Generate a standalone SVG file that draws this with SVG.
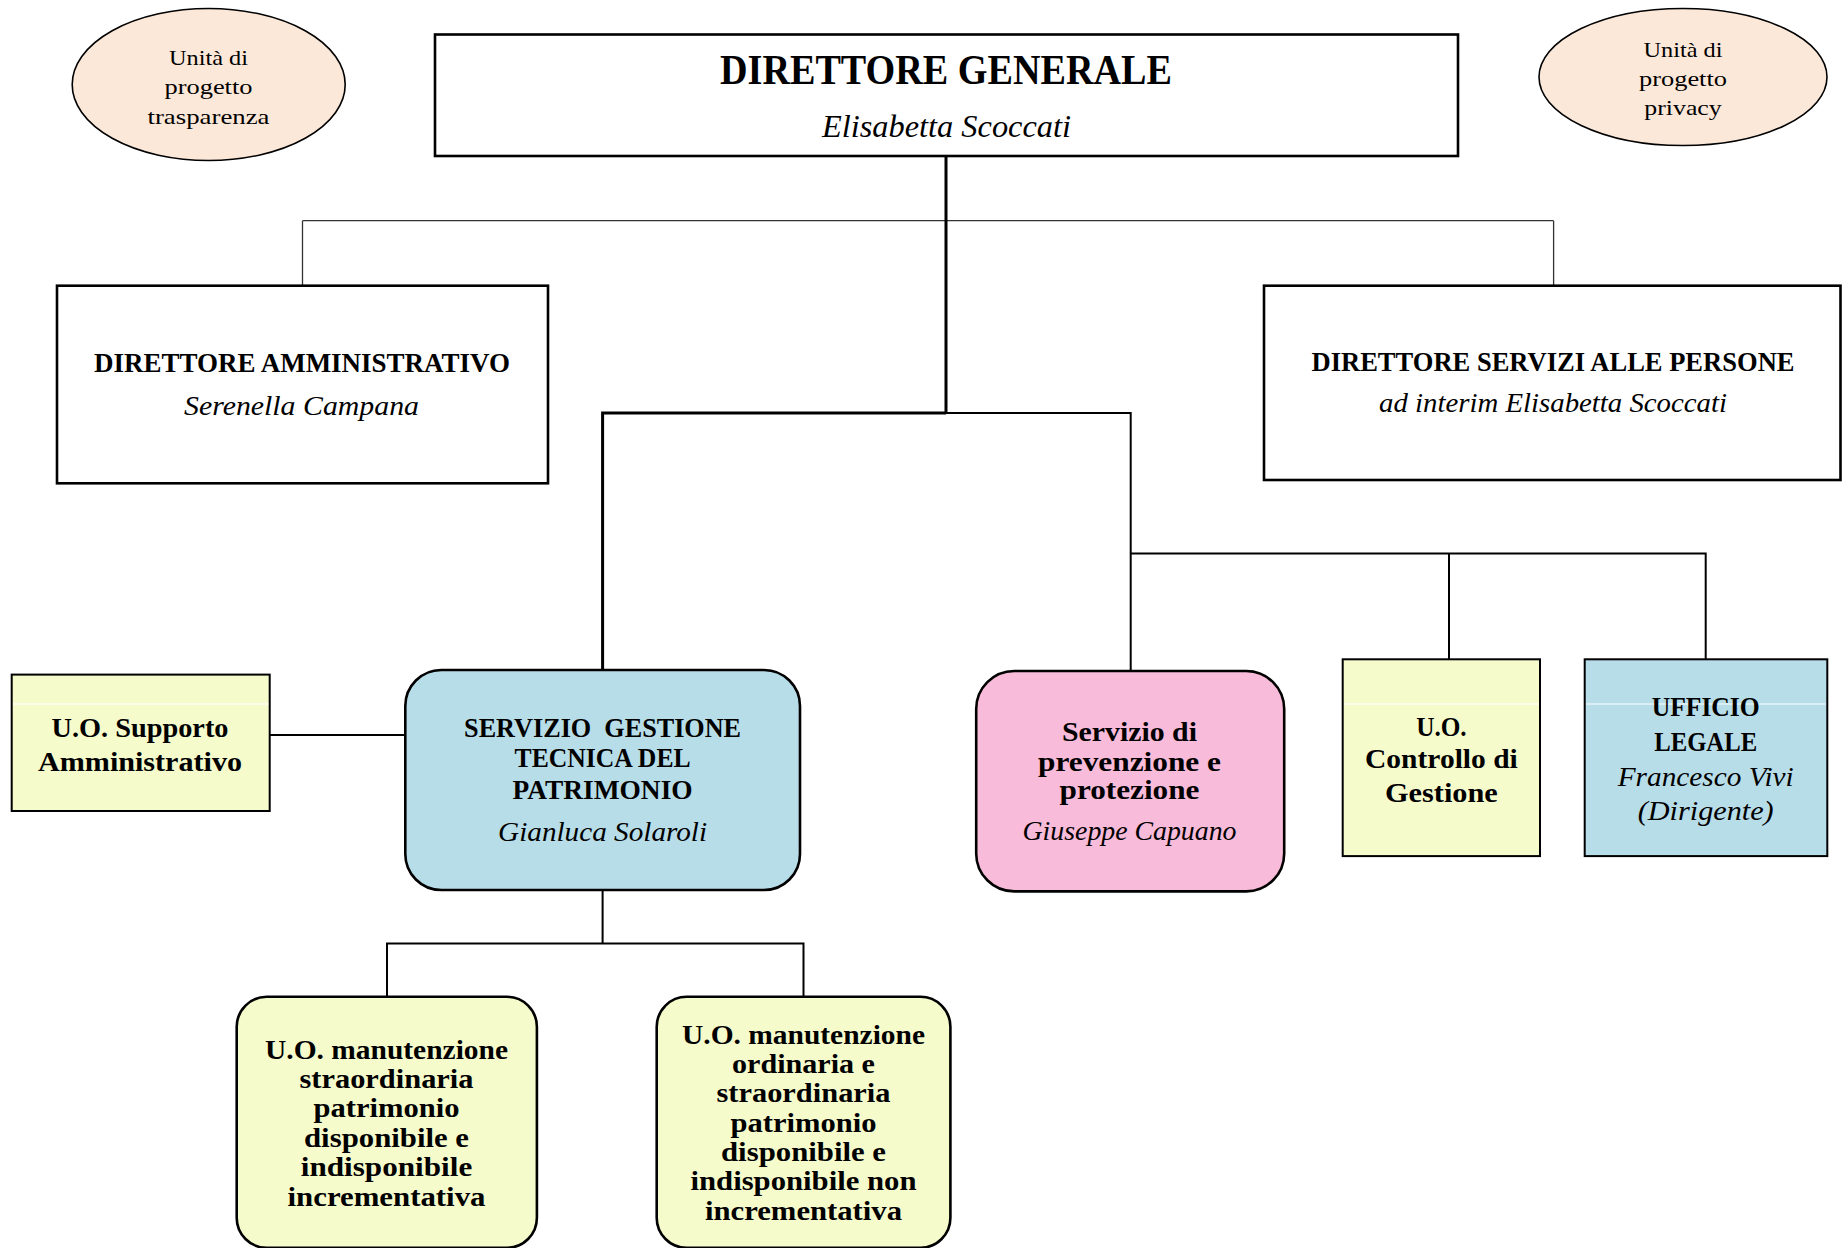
<svg xmlns="http://www.w3.org/2000/svg" width="1842" height="1248" viewBox="0 0 1842 1248">
<style>
  text { font-family: "Liberation Serif", "DejaVu Serif", serif; fill: #000; text-anchor: middle; }
  .b { font-weight: bold; }
  .i { font-style: italic; }
  .box { stroke: #000; stroke-width: 2.6; }
  .sq { stroke: #000; stroke-width: 2; }
  .ell { fill: #fce8d9; stroke: #000; stroke-width: 1.6; }
  .yel { fill: #f6fbcc; }
  .blu { fill: #b7dde8; }
  .pnk { fill: #f8bbd9; }
  .wl { stroke: #ffffff; stroke-width: 1.2; }
  .c { fill: none; stroke: #000; stroke-width: 2; }
  .ct { fill: none; stroke: #333; stroke-width: 1.3; }
  .ck { fill: none; stroke: #000; stroke-width: 3; }
  .f22 { font-size: 22px; }
  .f27 { font-size: 27px; }
  .f28 { font-size: 28px; }
</style>

<g id="connectors">
  <path class="ct" d="M302.5 220.7 H1553.6 M302.5 220.7 V285.7 M1553.6 220.7 V285.7"/>
  <path class="ck" d="M946 156 V413 M946 413 H602.6 V670"/>
  <path class="c" d="M946 413 H1130.7 V671"/>
  <path class="c" d="M1130.7 553.4 H1705.7 V659.3 M1449 553.4 V659.3"/>
  <path class="c" d="M269.6 735 H405.3"/>
  <path class="c" d="M602.6 890 V943.4 M387 996.8 V943.4 H803.5 V996.8"/>
</g>

<g id="unita-trasparenza">
  <ellipse class="ell" cx="208.7" cy="84.5" rx="136.5" ry="76"/>
  <text class="f22" x="208.5" y="65" textLength="79" lengthAdjust="spacingAndGlyphs">Unità di</text>
  <text class="f22" x="208.5" y="94.4" textLength="88" lengthAdjust="spacingAndGlyphs">progetto</text>
  <text class="f22" x="208.5" y="123.8" textLength="122" lengthAdjust="spacingAndGlyphs">trasparenza</text>
</g>

<g id="unita-privacy">
  <ellipse class="ell" cx="1683" cy="77" rx="144" ry="68.5"/>
  <text class="f22" x="1683" y="56.7" textLength="79" lengthAdjust="spacingAndGlyphs">Unità di</text>
  <text class="f22" x="1683" y="86" textLength="88" lengthAdjust="spacingAndGlyphs">progetto</text>
  <text class="f22" x="1683" y="115.3" textLength="77.5" lengthAdjust="spacingAndGlyphs">privacy</text>
</g>

<g id="direttore-generale">
  <rect class="box" x="435" y="34.5" width="1023" height="121.5" fill="#fff"/>
  <text class="b" x="946" y="84" font-size="42" textLength="452" lengthAdjust="spacingAndGlyphs">DIRETTORE GENERALE</text>
  <text class="i" x="946.5" y="136.5" font-size="32" textLength="249" lengthAdjust="spacingAndGlyphs">Elisabetta Scoccati</text>
</g>

<g id="direttore-amministrativo">
  <rect class="box" x="57" y="285.7" width="491" height="197.6" fill="#fff"/>
  <text class="b f28" x="302" y="371.7" textLength="416" lengthAdjust="spacingAndGlyphs">DIRETTORE AMMINISTRATIVO</text>
  <text class="i f28" x="301.5" y="415" textLength="235" lengthAdjust="spacingAndGlyphs">Serenella Campana</text>
</g>

<g id="direttore-servizi-persone">
  <rect class="box" x="1264" y="285.7" width="576.5" height="194.3" fill="#fff"/>
  <text class="b f28" x="1553" y="371" textLength="483" lengthAdjust="spacingAndGlyphs">DIRETTORE SERVIZI ALLE PERSONE</text>
  <text class="i f28" x="1553" y="412" textLength="348" lengthAdjust="spacingAndGlyphs">ad interim Elisabetta Scoccati</text>
</g>

<g id="uo-supporto-amministrativo">
  <rect class="sq yel" x="11.7" y="674.6" width="258" height="136.4"/>
  <line class="wl" x1="13" y1="704" x2="268.5" y2="704"/>
  <text class="b f27" x="140" y="736.8" textLength="177" lengthAdjust="spacingAndGlyphs">U.O. Supporto</text>
  <text class="b f27" x="140" y="770.7" textLength="204" lengthAdjust="spacingAndGlyphs">Amministrativo</text>
</g>

<g id="servizio-gestione-tecnica">
  <rect class="box blu" x="405.3" y="670" width="394.7" height="220" rx="36" ry="36"/>
  <text class="b f27" x="602.6" y="736.8" textLength="277" lengthAdjust="spacingAndGlyphs" xml:space="preserve">SERVIZIO  GESTIONE</text>
  <text class="b f27" x="602.6" y="767.4" textLength="176" lengthAdjust="spacingAndGlyphs">TECNICA DEL</text>
  <text class="b f27" x="602.6" y="798.6" textLength="180" lengthAdjust="spacingAndGlyphs">PATRIMONIO</text>
  <text class="i f27" x="602.6" y="841.3" textLength="209" lengthAdjust="spacingAndGlyphs">Gianluca Solaroli</text>
</g>

<g id="servizio-prevenzione-protezione">
  <rect class="box pnk" x="976.2" y="671" width="308" height="220.4" rx="38" ry="38"/>
  <text class="b f27" x="1129.5" y="740.5" textLength="135" lengthAdjust="spacingAndGlyphs">Servizio di</text>
  <text class="b f27" x="1129.5" y="770.7" textLength="183" lengthAdjust="spacingAndGlyphs">prevenzione e</text>
  <text class="b f27" x="1129.5" y="799" textLength="140" lengthAdjust="spacingAndGlyphs">protezione</text>
  <text class="i f27" x="1129.5" y="840" textLength="214" lengthAdjust="spacingAndGlyphs">Giuseppe Capuano</text>
</g>

<g id="uo-controllo-gestione">
  <rect class="sq yel" x="1342.7" y="659.3" width="197.3" height="196.8"/>
  <line class="wl" x1="1344" y1="704" x2="1539" y2="704"/>
  <text class="b f27" x="1441.4" y="736" textLength="50.5" lengthAdjust="spacingAndGlyphs">U.O.</text>
  <text class="b f27" x="1441.4" y="768.4" textLength="152.7" lengthAdjust="spacingAndGlyphs">Controllo di</text>
  <text class="b f27" x="1441.4" y="801.8" textLength="112.8" lengthAdjust="spacingAndGlyphs">Gestione</text>
</g>

<g id="ufficio-legale">
  <rect class="sq blu" x="1584.7" y="659.3" width="242.6" height="196.8"/>
  <line class="wl" x1="1586" y1="704" x2="1826" y2="704"/>
  <text class="b f27" x="1705.7" y="716" textLength="108" lengthAdjust="spacingAndGlyphs">UFFICIO</text>
  <text class="b f27" x="1705.7" y="750.7" textLength="103" lengthAdjust="spacingAndGlyphs">LEGALE</text>
  <text class="i f27" x="1705.7" y="786" textLength="176" lengthAdjust="spacingAndGlyphs">Francesco Vivi</text>
  <text class="i f27" x="1705.7" y="819.5" textLength="136" lengthAdjust="spacingAndGlyphs">(Dirigente)</text>
</g>

<g id="uo-manutenzione-straordinaria">
  <rect class="box yel" x="236.7" y="996.8" width="300.2" height="251" rx="30" ry="30"/>
  <text class="b f27" x="386.5" y="1058.5" textLength="243" lengthAdjust="spacingAndGlyphs">U.O. manutenzione</text>
  <text class="b f27" x="386.5" y="1087.8" textLength="174" lengthAdjust="spacingAndGlyphs">straordinaria</text>
  <text class="b f27" x="386.5" y="1117.1" textLength="146" lengthAdjust="spacingAndGlyphs">patrimonio</text>
  <text class="b f27" x="386.5" y="1146.7" textLength="165" lengthAdjust="spacingAndGlyphs">disponibile e</text>
  <text class="b f27" x="386.5" y="1175.8" textLength="171.5" lengthAdjust="spacingAndGlyphs">indisponibile</text>
  <text class="b f27" x="386.5" y="1205.7" textLength="198" lengthAdjust="spacingAndGlyphs">incrementativa</text>
</g>

<g id="uo-manutenzione-ordinaria">
  <rect class="box yel" x="656.7" y="996.8" width="293.7" height="251" rx="30" ry="30"/>
  <text class="b f27" x="803.5" y="1043.7" textLength="243" lengthAdjust="spacingAndGlyphs">U.O. manutenzione</text>
  <text class="b f27" x="803.5" y="1072.8" textLength="143" lengthAdjust="spacingAndGlyphs">ordinaria e</text>
  <text class="b f27" x="803.5" y="1102.4" textLength="174" lengthAdjust="spacingAndGlyphs">straordinaria</text>
  <text class="b f27" x="803.5" y="1131.9" textLength="146" lengthAdjust="spacingAndGlyphs">patrimonio</text>
  <text class="b f27" x="803.5" y="1161.4" textLength="165" lengthAdjust="spacingAndGlyphs">disponibile e</text>
  <text class="b f27" x="803.5" y="1190.4" textLength="226" lengthAdjust="spacingAndGlyphs">indisponibile non</text>
  <text class="b f27" x="803.5" y="1220" textLength="197" lengthAdjust="spacingAndGlyphs">incrementativa</text>
</g>
</svg>
